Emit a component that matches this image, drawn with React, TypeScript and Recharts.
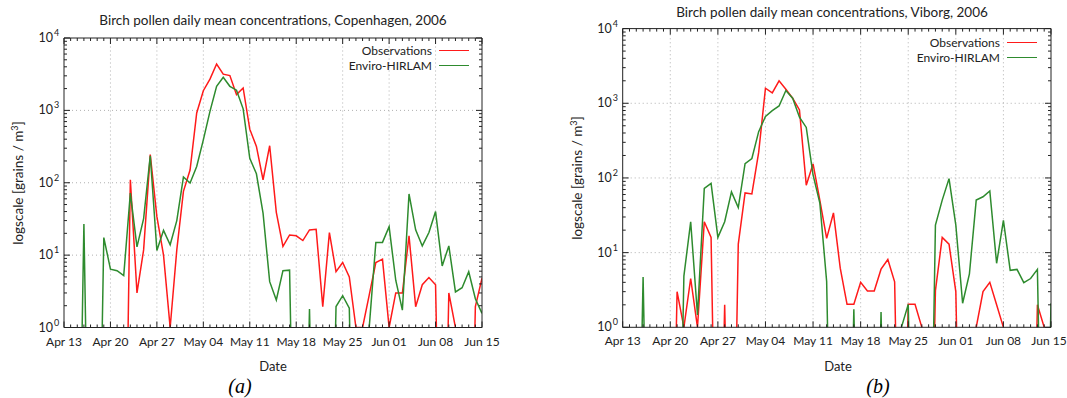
import React from 'react';
import { LineChart, Line, XAxis, YAxis, ReferenceLine } from 'recharts';

// x: day index from Apr 13 (0) to Jun 15 (63)
const tickDays = [0, 7, 14, 21, 28, 35, 42, 49, 56, 63];
const tickLabels = ['Apr 13', 'Apr 20', 'Apr 27', 'May 04', 'May 11', 'May 18', 'May 25', 'Jun 01', 'Jun 08', 'Jun 15'];
const gridDays = [7, 14, 21, 28, 35, 42, 49, 56];
const yMajor = [1, 10, 100, 1000, 10000];
const yExponents = ['0', '1', '2', '3', '4'];
const yGrid = [10, 100, 1000];

// Copenhagen (a)
const cphObs = [
  0, 0, 0, 0, 0, 0, 0, 0, 0, 0,
  110, 3.0, 11.8, 245, 34, 10, 1.0, 11.8, 76, 150,
  920, 1870, 2700, 4370, 3170, 3030, 1650, 2040, 550, 318,
  110, 325, 39, 13.2, 19, 18.5, 15.9, 22.3, 22.8, 1.94,
  20.5, 5.9, 7.9, 5.0, 1.0, 1.0, 2.8, 7.9, 8.8, 1.0,
  3.0, 3.0, 18.5, 1.94, 3.9, 4.9, 3.9, 0, 3.0, 1.0,
  0, 0, 1.94, 4.8,
];
const cphModel = [
  0, 0, 0, 27, 0, 0, 17.5, 6.4, 6.1, 5.2,
  72, 13, 32, 236, 11.6, 22, 13.9, 30, 120, 99,
  168, 392, 970, 2150, 2860, 2150, 1900, 1050, 218, 133,
  38, 4.3, 2.4, 6.1, 6.2, 0, 0, 1.8, 0, 0,
  0, 1.95, 2.75, 1.85, 0, 0, 1.0, 15, 15, 24.7,
  4.5, 1.74, 70, 22.4, 13.4, 20.5, 40, 7.1, 13.4, 3.1,
  3.55, 5.9, 2.5, 1.57,
];

// Viborg (b)
const vibObs = [
  0, 0, 0, 0, 0, 0, 0, 0, 3.0, 1.0,
  4.5, 1.0, 25.9, 16, 0, 2.0, 0, 13, 63, 61,
  220, 1590, 1380, 2000, 1540, 1170, 815, 80, 154, 50,
  15.5, 34, 6.2, 2.03, 2.03, 4.0, 3.06, 3.06, 6.0, 8.1,
  4.07, 0, 2.03, 2.03, 1.0, 0, 3.1, 16, 13, 3.0,
  0, 0, 1.0, 3.0, 4.0, 2.0, 1.0, 0, 0, 0,
  0, 2.0, 1.0, 0,
];
const vibModel = [
  0, 0, 0, 4.7, 0, 0, 0, 0, 0, 4.85,
  25.9, 1.46, 72.5, 84.7, 16, 25.9, 65, 40, 155, 182,
  417, 665, 795, 920, 1480, 1170, 650, 475, 110, 46,
  4.1, 0, 0, 0, 1.74, 0, 0, 0, 1.6, 0,
  0, 1.0, 2.03, 0, 0, 0, 23.4, 50.5, 98, 23.4,
  2.1, 5.2, 50.5, 56, 67, 7.2, 27, 5.8, 5.96, 3.96,
  4.5, 5.96, 0, 2.1,
];

const FONT = 'Lato, "Open Sans", sans-serif';
const AXIS = '#222';
const RED = '#ff1a1a';
const GREEN = '#2e8b2e';

const allDays = cphObs.map((_, i) => i);
const yTicks: number[] = [];
yMajor.forEach((m, i) => {
  if (i < yMajor.length - 1) {
    for (let k = 1; k < 10; k++) yTicks.push(m * k);
  } else yTicks.push(m);
});

const toPlot = (v: number) => (v > 0 ? v : 1e-4);

const buildRows = (obs: number[], model: number[]) =>
  obs.map((v, i) => ({ d: i, obs: toPlot(v), model: toPlot(model[i]) }));

const makeXTick = (pos: 'bottom' | 'top', maxRight: number) => (props: any) => {
  const { x, y, payload } = props;
  const idx = tickDays.indexOf(payload.value);
  const len = idx >= 0 ? 6 : 3;
  const dir = pos === 'bottom' ? -1 : 1;
  const labelX = Math.min(x, maxRight - 18);
  return (
    <g>
      <line x1={x} x2={x} y1={y} y2={y + dir * len} stroke={AXIS} strokeWidth={1} />
      {pos === 'bottom' && idx >= 0 && (
        <text x={labelX} y={y + 18} textAnchor="middle" fontSize={12} fill="#222" fontFamily={FONT}>
          {tickLabels[idx]}
        </text>
      )}
    </g>
  );
};

const makeYTick = (pos: 'left' | 'right') => (props: any) => {
  const { x, y, payload } = props;
  const idx = yMajor.indexOf(payload.value);
  const len = idx >= 0 ? 6 : 3;
  const dir = pos === 'left' ? 1 : -1;
  return (
    <g>
      <line x1={x} x2={x + dir * len} y1={y} y2={y} stroke={AXIS} strokeWidth={1} />
      {pos === 'left' && idx >= 0 && (
        <text x={x - 11} y={y + 4} textAnchor="end" fontSize={12.5} fill="#222" fontFamily={FONT}>
          10
        </text>
      )}
      {pos === 'left' && idx >= 0 && (
        <text x={x - 10} y={y - 2} textAnchor="start" fontSize={9} fill="#222" fontFamily={FONT}>
          {yExponents[idx]}
        </text>
      )}
    </g>
  );
};

type PanelProps = {
  obs: number[];
  model: number[];
  left: number;
  width: number;
  yAxisWidth: number;
  marginTop: number;
  marginRight: number;
  marginBottom: number;
};

function Panel({ obs, model, left, width, yAxisWidth, marginTop, marginRight, marginBottom }: PanelProps) {
  const rows = buildRows(obs, model);
  return (
    <div style={{ position: 'absolute', left, top: 0, width, height: 398 }}>
      <LineChart
        width={width}
        height={398}
        data={rows}
        margin={{ top: marginTop, right: marginRight, bottom: marginBottom, left: 0 }}
      >
        <XAxis
          xAxisId="b"
          dataKey="d"
          type="number"
          domain={[0, 63]}
          allowDataOverflow
          ticks={allDays}
          interval={0}
          height={30}
          tickSize={0}
          tickMargin={0}
          tickLine={false}
          axisLine={{ stroke: AXIS }}
          tick={makeXTick('bottom', width)}
        />
        <XAxis
          xAxisId="t"
          orientation="top"
          dataKey="d"
          type="number"
          domain={[0, 63]}
          allowDataOverflow
          ticks={allDays}
          interval={0}
          height={1}
          tickSize={0}
          tickMargin={0}
          tickLine={false}
          axisLine={{ stroke: AXIS }}
          tick={makeXTick('top', width)}
        />
        <YAxis
          yAxisId="l"
          type="number"
          scale="log"
          domain={[1, 10000]}
          allowDataOverflow
          ticks={yTicks}
          interval={0}
          width={yAxisWidth}
          tickSize={0}
          tickMargin={0}
          tickLine={false}
          axisLine={{ stroke: AXIS }}
          tick={makeYTick('left')}
        />
        <YAxis
          yAxisId="r"
          orientation="right"
          type="number"
          scale="log"
          domain={[1, 10000]}
          allowDataOverflow
          ticks={yTicks}
          interval={0}
          width={1}
          tickSize={0}
          tickMargin={0}
          tickLine={false}
          axisLine={{ stroke: AXIS }}
          tick={makeYTick('right')}
        />
        {yGrid.map((v) => (
          <ReferenceLine key={'gy' + v} y={v} xAxisId="b" yAxisId="l" stroke="#b0b0b0" strokeDasharray="1 3" />
        ))}
        {gridDays.map((v) => (
          <ReferenceLine key={'gx' + v} x={v} xAxisId="b" yAxisId="l" stroke="#b0b0b0" strokeDasharray="1 3" />
        ))}
        <Line
          xAxisId="b"
          yAxisId="l"
          type="linear"
          dataKey="obs"
          stroke={RED}
          strokeWidth={1.5}
          dot={false}
          isAnimationActive={false}
        />
        <Line
          xAxisId="b"
          yAxisId="l"
          type="linear"
          dataKey="model"
          stroke={GREEN}
          strokeWidth={1.5}
          dot={false}
          isAnimationActive={false}
        />
      </LineChart>
    </div>
  );
}

const textStyle: React.CSSProperties = {
  position: 'absolute',
  fontFamily: FONT,
  color: '#222',
  whiteSpace: 'nowrap',
  lineHeight: '14px',
};

function Legend({ right, top }: { right: number; top: number }) {
  const rows = [
    { label: 'Observations', color: RED },
    { label: 'Enviro-HIRLAM', color: GREEN },
  ];
  return (
    <>
      {rows.map((r, i) => (
        <React.Fragment key={r.label}>
          <div
            style={{
              ...textStyle,
              fontSize: 12,
              top: top + i * 14.8 - 7,
              left: right - 200,
              width: 200,
              textAlign: 'right',
            }}
          >
            {r.label}
          </div>
          <div
            style={{
              position: 'absolute',
              left: right + 7,
              top: top + i * 14.8 - 1,
              width: 30,
              height: 0,
              borderTop: `1.5px solid ${r.color}`,
            }}
          />
        </React.Fragment>
      ))}
    </>
  );
}

const yLabelStyle: React.CSSProperties = {
  ...textStyle,
  fontSize: 13.5,
  width: 200,
  textAlign: 'center',
  transform: 'rotate(-90deg)',
};

export default function App() {
  return (
    <div
      style={{
        position: 'absolute',
        left: 0,
        top: 0,
        width: 1067,
        height: 398,
        background: '#fff',
        overflow: 'hidden',
      }}
    >
      <Panel
        obs={cphObs}
        model={cphModel}
        left={0}
        width={500}
        yAxisWidth={64}
        marginTop={37}
        marginRight={17}
        marginBottom={40.5}
      />
      <Panel
        obs={vibObs}
        model={vibModel}
        left={540}
        width={527}
        yAxisWidth={82.7}
        marginTop={27.6}
        marginRight={15}
        marginBottom={40.7}
      />

      <div style={{ ...textStyle, fontSize: 13.5, top: 13, left: 73, width: 400, textAlign: 'center' }}>
        Birch pollen daily mean concentrations, Copenhagen, 2006
      </div>
      <div style={{ ...textStyle, fontSize: 13.5, top: 5, left: 632, width: 400, textAlign: 'center' }}>
        Birch pollen daily mean concentrations, Viborg, 2006
      </div>

      <div style={{ ...yLabelStyle, left: 18 - 100, top: 183 - 7 }}>
        logscale [grains / m<sup style={{ fontSize: 9, verticalAlign: 'super', lineHeight: 0 }}>3</sup>]
      </div>
      <div style={{ ...yLabelStyle, left: 577 - 100, top: 178 - 7 }}>
        logscale [grains / m<sup style={{ fontSize: 9, verticalAlign: 'super', lineHeight: 0 }}>3</sup>]
      </div>

      <div style={{ ...textStyle, fontSize: 13, top: 359, left: 173, width: 200, textAlign: 'center' }}>Date</div>
      <div style={{ ...textStyle, fontSize: 13, top: 359, left: 738, width: 200, textAlign: 'center' }}>Date</div>

      <div
        style={{
          position: 'absolute',
          top: 374,
          left: 190,
          width: 100,
          textAlign: 'center',
          fontFamily: '"Liberation Serif", serif',
          fontStyle: 'italic',
          fontSize: 20,
          lineHeight: '24px',
        }}
      >
        (a)
      </div>
      <div
        style={{
          position: 'absolute',
          top: 374,
          left: 828,
          width: 100,
          textAlign: 'center',
          fontFamily: '"Liberation Serif", serif',
          fontStyle: 'italic',
          fontSize: 20,
          lineHeight: '24px',
        }}
      >
        (b)
      </div>

      <Legend right={432} top={50.7} />
      <Legend right={1000} top={43.3} />
    </div>
  );
}
